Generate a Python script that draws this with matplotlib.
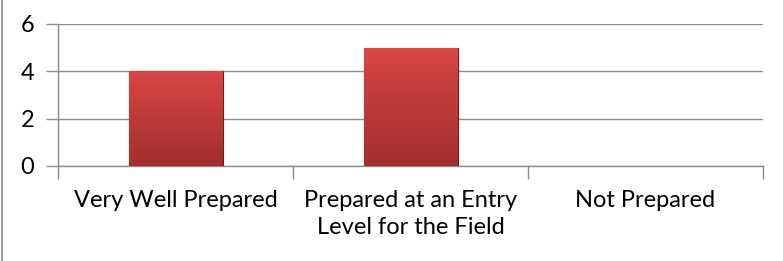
import numpy as np
import matplotlib.pyplot as plt
from matplotlib.colors import LinearSegmentedColormap
from matplotlib.lines import Line2D

# chart data
categories = ["Very Well Prepared", "Prepared at an Entry\nLevel for the Field", "Not Prepared"]
values = [4, 5, 0]
y_ticks = [0, 2, 4, 6]

plt.rcParams['font.family'] = ['Lato', 'DejaVu Sans']

fig = plt.figure(figsize=(7.83, 2.61), dpi=100)
ax = fig.add_axes([58 / 783, 95 / 261, 705 / 783, 142 / 261])

x = np.arange(len(categories))
bars = ax.bar(x, values, width=0.4, color='#c53b3b', edgecolor='#6e1c1c', linewidth=0.8, zorder=3)

# vertical gradient inside each bar
grad = LinearSegmentedColormap.from_list('bar', ['#a32e2e', '#d94646'])
for b in bars:
    if b.get_height() <= 0:
        b.set_visible(False)
        continue
    x0, w, h = b.get_x(), b.get_width(), b.get_height()
    img = ax.imshow(np.linspace(0, 1, 100).reshape(-1, 1), cmap=grad, origin='lower',
                    extent=[x0, x0 + w, 0, h], aspect='auto', zorder=3.5)
    img.set_clip_path(b)

ax.set_xlim(-0.5, len(categories) - 0.5)
ax.set_ylim(0, 6)
ax.set_yticks(y_ticks)
ax.yaxis.grid(True, color='#8c8c8c', linewidth=1.0, zorder=0)

# ticks at category boundaries, labels at centers
ax.set_xticks(np.arange(len(categories) + 1) - 0.5)
ax.set_xticklabels([])
ax.set_xticks(x, minor=True)
ax.set_xticklabels(categories, minor=True, fontsize=17, color='#000000', linespacing=1.4)
ax.tick_params(axis='x', which='major', length=9, color='#8c8c8c', width=1)
ax.tick_params(axis='x', which='minor', length=0, pad=17)
ax.tick_params(axis='y', length=9, color='#8c8c8c', width=1, labelsize=17, pad=8)

for s in ['top', 'right']:
    ax.spines[s].set_visible(False)
for s in ['left', 'bottom']:
    ax.spines[s].set_color('#8c8c8c')
    ax.spines[s].set_linewidth(1.0)

# chart frame edge on the left
fig.add_artist(Line2D([1.5 / 783, 1.5 / 783], [0, 1], color='#8c8c8c', linewidth=1.2))

fig.savefig('out.png', dpi=100)
